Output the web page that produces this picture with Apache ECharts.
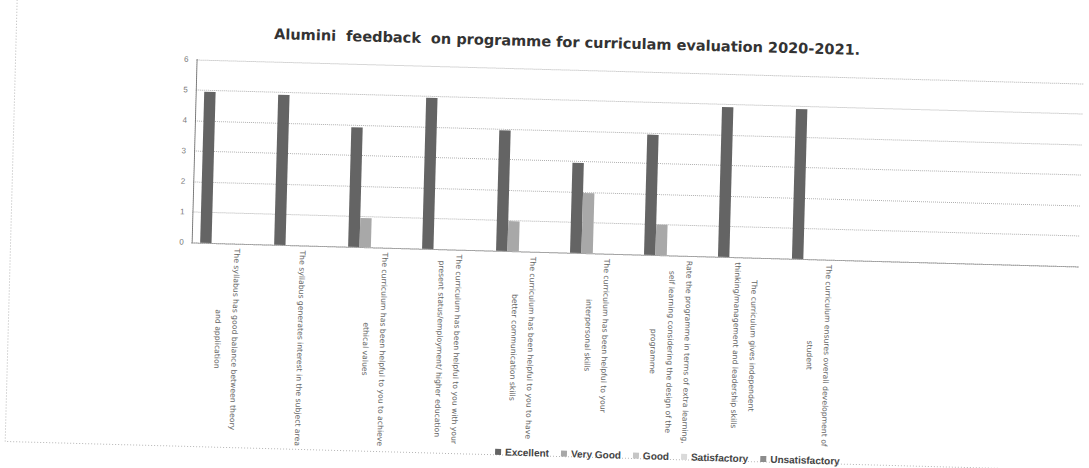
<!DOCTYPE html>
<html>
<head>
<meta charset="utf-8">
<script src="https://cdn.jsdelivr.net/npm/echarts@6/dist/echarts.min.js"></script>
<style>
html, body { margin: 0; padding: 0; background: #ffffff; overflow: hidden; width: 1089px; height: 468px; }
#chart { width: 1089px; height: 468px; transform: rotate(1.55deg); transform-origin: 544.5px 234px; }
</style>
</head>
<body>
<div id="chart"></div>
<script>
const titleText = "Alumini  feedback  on programme for curriculam evaluation 2020-2021.";
const categories = [
  "The syllabus has good balance between theory\nand application",
  "The syllabus generates interest in the subject area",
  "The curriculum has been helpful to you to achieve\nethical values",
  "The curriculum has been helpful to you with your\npresent status/employment/ higher education",
  "The curriculum has been helpful to you to have\nbetter communication skills",
  "The curriculum has been helpful to your\ninterpersonal skills",
  "Rate the programme in terms of extra learning,\nself learning considering the design of the\nprogramme",
  "The curriculum gives independent\nthinking/management and leadership skills",
  "The curriculum ensures overall development of\nstudent",
  "", "", ""
];
const seriesNames = ["Excellent", "Very Good", "Good", "Satisfactory", "Unsatisfactory"];
const excellent      = [4.95, 4.92, 3.92, 4.95, 3.95, 2.95, 3.94, 4.91, 4.91];
const veryGood       = [0, 0, 0.95, 0, 0.98, 1.97, 1.0, 0, 0];
const good           = [0, 0, 0, 0, 0, 0, 0, 0, 0];
const satisfactory   = [0, 0, 0, 0, 0, 0, 0, 0, 0];
const unsatisfactory = [0, 0, 0, 0, 0, 0, 0, 0, 0];
const yTicks = { min: 0, max: 6, interval: 1 };

const seriesData = [excellent, veryGood, good, satisfactory, unsatisfactory];
const colors = ["#646464", "#a8a8a8", "#c6c6c6", "#dadada", "#8c8c8c"];

const chart = echarts.init(document.getElementById('chart'), null, { renderer: 'svg' });
chart.setOption({
  animation: false,
  backgroundColor: '#ffffff',
  color: colors,
  title: {
    text: titleText,
    left: 557,
    textAlign: 'center',
    top: 29,
    textStyle: { fontFamily: 'DejaVu Sans, Verdana, sans-serif', fontSize: 14.5, fontWeight: 'bold', color: '#333' }
  },
  legend: {
    data: seriesNames,
    left: 496,
    top: 443,
    icon: 'rect',
    itemWidth: 6,
    itemHeight: 6,
    itemGap: 12,
    textStyle: { fontFamily: 'Liberation Sans, Arial, sans-serif', fontSize: 10, fontWeight: 'bold', color: '#444', padding: [0, 0, 0, -1] }
  },
  grid: { left: 192, right: 9, top: 69, bottom: 216, containLabel: false },
  xAxis: {
    type: 'category',
    data: categories,
    axisLine: { show: true, lineStyle: { color: '#999', type: 'dotted', width: 1 } },
    axisTick: { show: false },
    axisLabel: {
      interval: 0,
      rotate: -90,
      margin: 5,
      color: '#666',
      formatter: function (v) {
        if (!v) return '';
        return v.split('\n').map(function (l) { return '{a|' + l + '}'; }).join('\n');
      },
      rich: {
        a: { fontFamily: 'DejaVu Sans, Verdana, sans-serif', fontSize: 7.7, lineHeight: 17, color: '#666', align: 'center' }
      }
    }
  },
  yAxis: {
    type: 'value',
    min: yTicks.min,
    max: yTicks.max,
    interval: yTicks.interval,
    axisLine: { show: true, lineStyle: { color: '#666', type: 'dotted', width: 1 } },
    axisTick: { show: false },
    axisLabel: { margin: 8, fontFamily: 'Liberation Sans, Arial, sans-serif', fontSize: 8, color: '#777' },
    splitLine: { show: true, lineStyle: { color: '#b0b0b0', type: 'dotted', width: 1 } }
  },
  graphic: [{
    type: 'rect',
    silent: true,
    z: -10,
    shape: { x: 11, y: -30, width: 1200, height: 486 },
    style: { fill: 'none', stroke: '#b5b5b5', lineWidth: 1, lineDash: [1, 2] }
  }],
  series: seriesNames.map(function (name, i) {
    return {
      name: name,
      type: 'bar',
      data: seriesData[i],
      barGap: '0%',
      barCategoryGap: '23%',
      itemStyle: { color: colors[i] }
    };
  })
});
</script>
</body>
</html>
